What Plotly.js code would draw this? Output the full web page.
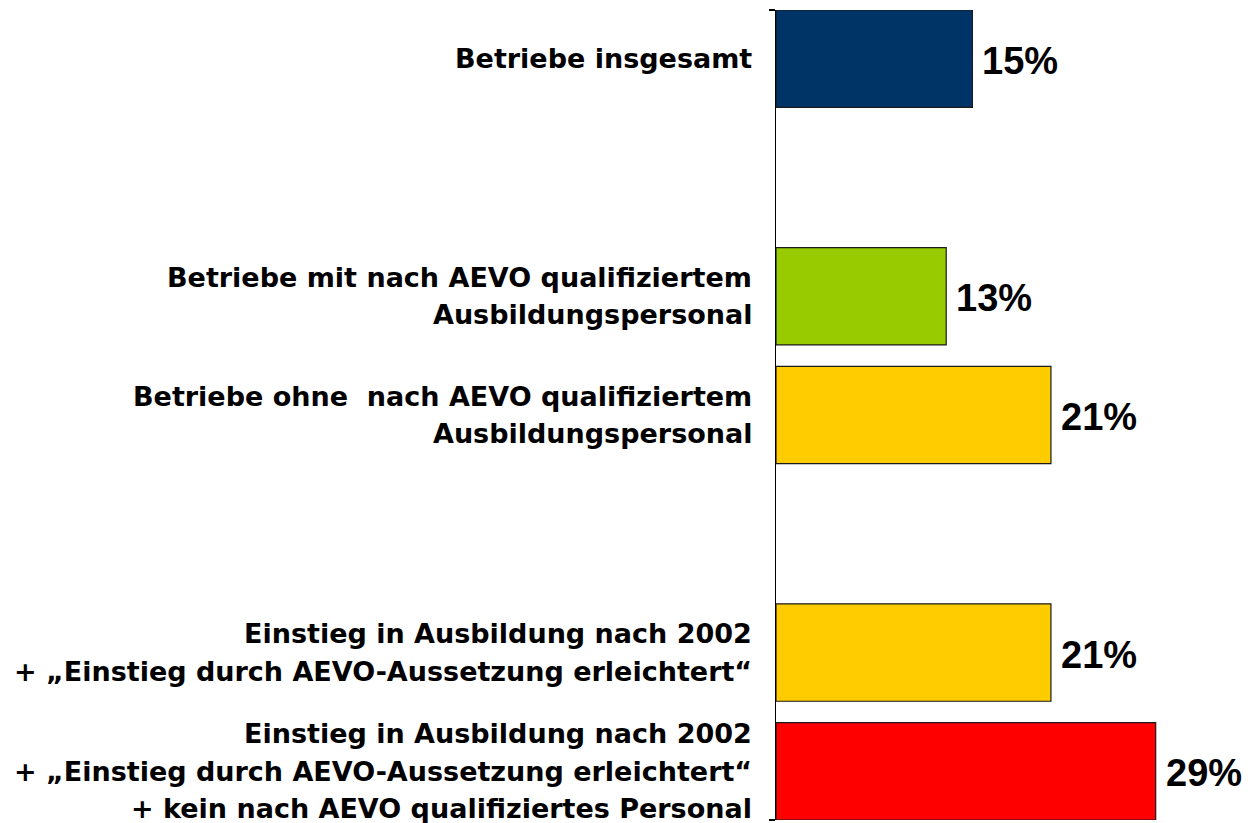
<!DOCTYPE html>
<html>
<head>
<meta charset="utf-8">
<script src="https://cdn.plot.ly/plotly-3.0.1.min.js"></script>
<style>html,body{margin:0;padding:0;background:#fff;}#chart{width:1248px;height:823px;}</style>
</head>
<body>
<div id="chart"></div>
<script>
// Data
var slots = [0, 2, 3, 5, 6];
var values = [15, 13, 21, 21, 29];
var valueLabels = ["15%", "13%", "21%", "21%", "29%"];
var barColors = ["#003366", "#99CC00", "#FFCC00", "#FFCC00", "#FF0000"];
var categoryLines = [
  ["Betriebe insgesamt"],
  ["Betriebe mit nach AEVO qualifiziertem", "Ausbildungspersonal"],
  ["Betriebe ohne\u00a0 nach AEVO qualifiziertem", "Ausbildungspersonal"],
  ["Einstieg in Ausbildung nach 2002", "+ \u201EEinstieg durch AEVO-Aussetzung erleichtert\u201C"],
  ["Einstieg in Ausbildung nach 2002", "+ \u201EEinstieg durch AEVO-Aussetzung erleichtert\u201C", "+ kein nach AEVO qualifiziertes Personal"]
];

var catFont = {family: "DejaVu Sans", size: 27, color: "#000", weight: 700};
var valFont = {family: "Liberation Sans, Arial, sans-serif", size: 38, color: "#000", weight: 700};
var lineStep = 37.5;

var annotations = [];
categoryLines.forEach(function (lines, i) {
  var n = lines.length;
  lines.forEach(function (t, j) {
    annotations.push({
      x: 0, xref: "paper", y: slots[i], yref: "y",
      text: t, showarrow: false, xanchor: "right", yanchor: "middle",
      xshift: -22, yshift: ((n - 1) / 2 - j) * lineStep,
      font: catFont
    });
  });
});
values.forEach(function (v, i) {
  annotations.push({
    x: v, xref: "x", y: slots[i], yref: "y",
    text: valueLabels[i], showarrow: false, xanchor: "left", yanchor: "middle",
    xshift: 8, yshift: -2, font: valFont
  });
});

var trace = {
  type: "bar",
  orientation: "h",
  x: values,
  y: slots,
  width: 0.82,
  marker: {color: barColors, line: {color: "#1a1a1a", width: 1.2}},
  hoverinfo: "none"
};

var layout = {
  width: 1248, height: 823,
  margin: {l: 776, r: 0, t: 10, b: 3, pad: 0},
  paper_bgcolor: "#fff", plot_bgcolor: "#fff",
  showlegend: false,
  xaxis: {range: [0, 36.05], showgrid: false, zeroline: false, showline: false, showticklabels: false, ticks: ""},
  yaxis: {
    range: [6.41, -0.41], showgrid: false, zeroline: false,
    showline: true, linecolor: "#000", linewidth: 1.3,
    ticks: "outside", ticklen: 6, tickcolor: "#000", tickwidth: 1.3,
    tickvals: [-0.41, 6.41], ticktext: ["", ""]
  },
  annotations: annotations
};

Plotly.newPlot("chart", [trace], layout, {displayModeBar: false, staticPlot: true});
</script>
</body>
</html>
